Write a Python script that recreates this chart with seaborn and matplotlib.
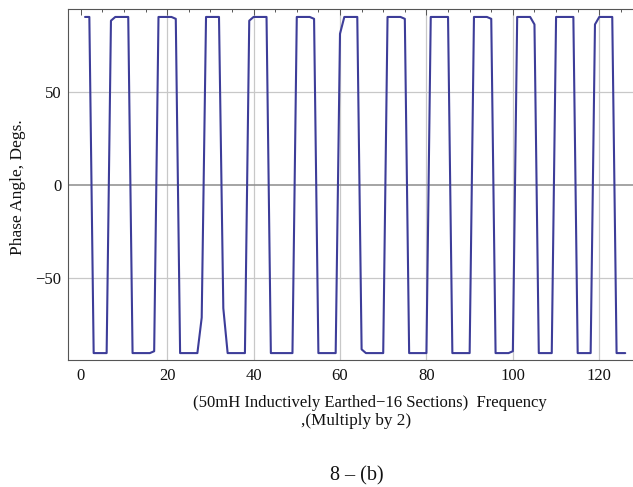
import matplotlib
matplotlib.use("Agg")
import matplotlib.pyplot as plt
from matplotlib.ticker import MultipleLocator
import seaborn as sns
import pandas as pd

# Frequency index (multiply by 2 for the actual frequency)
freq = list(range(1, 127))

# Phase angle in degrees at each frequency index
phase = [
    90, 90, -90, -90, -90, -90, 88, 90, 90, 90,
    90, -90, -90, -90, -90, -90, -89, 90, 90, 90,
    90, 89, -90, -90, -90, -90, -90, -71, 90, 90,
    90, 90, -66, -90, -90, -90, -90, -90, 88, 90,
    90, 90, 90, -90, -90, -90, -90, -90, -90, 90,
    90, 90, 90, 89, -90, -90, -90, -90, -90, 81,
    90, 90, 90, 90, -88, -90, -90, -90, -90, -90,
    90, 90, 90, 90, 89, -90, -90, -90, -90, -90,
    90, 90, 90, 90, 90, -90, -90, -90, -90, -90,
    90, 90, 90, 90, 89, -90, -90, -90, -90, -89,
    90, 90, 90, 90, 86, -90, -90, -90, -90, 90,
    90, 90, 90, 90, -90, -90, -90, -90, 86, 90,
    90, 90, 90, -90, -90, -90,
]

x_major = [0, 20, 40, 60, 80, 100, 120]
y_major = [-50, 0, 50]

df = pd.DataFrame({"freq": freq, "phase": phase})

sns.set_style("white")
plt.rcParams["font.family"] = ["Liberation Serif", "DejaVu Serif"]
plt.rcParams["axes.unicode_minus"] = True

W, H = 633, 487
fig = plt.figure(figsize=(W / 100, H / 100), dpi=100)
left, right, top, bottom = 68.3, 633.0, 9.3, 360.0
ax = fig.add_axes([left / W, 1 - bottom / H, (right - left) / W, (bottom - top) / H])

sns.lineplot(data=df, x="freq", y="phase", ax=ax, color="#3d3d99",
             linewidth=1.5, zorder=3)

ax.set_xlim(-2.87, 127.8)
ax.set_ylim(-93.7, 94.1)

ax.set_xticks(x_major)
ax.set_yticks(y_major)
ax.xaxis.set_minor_locator(MultipleLocator(5))
ax.yaxis.set_minor_locator(MultipleLocator(10))

# Grid: light vertical lines at major x ticks (not at 0), light horizontal
# lines at +/-50 and a darker zero line
ax.grid(True, which="major", color="#c8c8c8", linewidth=0.9, zorder=0)
ax.set_axisbelow(True)
for val, gl in zip(x_major, ax.get_xgridlines()):
    if val == 0:
        gl.set_visible(False)
for val, gl in zip(y_major, ax.get_ygridlines()):
    if val == 0:
        gl.set_color("#8c8c8c")
        gl.set_linewidth(1.1)

frame_col = "#555555"
for side in ["left", "top", "bottom"]:
    ax.spines[side].set_color(frame_col)
    ax.spines[side].set_linewidth(0.8)
ax.spines["right"].set_visible(False)

ax.tick_params(which="both", direction="in", top=True, right=False,
               color=frame_col, width=0.7, labelsize=12, labelcolor="#111111")
ax.tick_params(which="major", length=4.5, pad=6)
ax.tick_params(which="minor", length=2.5)
ax.tick_params(axis="y", which="major", pad=5)

ax.set_xlabel("")
ax.set_ylabel("")

def fx(px):
    return px / W

def fy(py):
    return 1 - py / H

fig.text(fx(18), fy(187), "Phase Angle, Degs.", rotation=90,
         ha="center", va="center", fontsize=12.5, color="#111111")
fig.text(fx(370), fy(403), "(50mH Inductively Earthed\u221216 Sections)  Frequency",
         ha="center", va="center", fontsize=12, color="#111111")
fig.text(fx(356), fy(421), ",(Multiply by 2)",
         ha="center", va="center", fontsize=12.3, color="#111111")
fig.text(fx(357), fy(476), "8 \u2013 (b)",
         ha="center", va="center", fontsize=14.5, color="#111111")

fig.savefig("out.png", dpi=100)
